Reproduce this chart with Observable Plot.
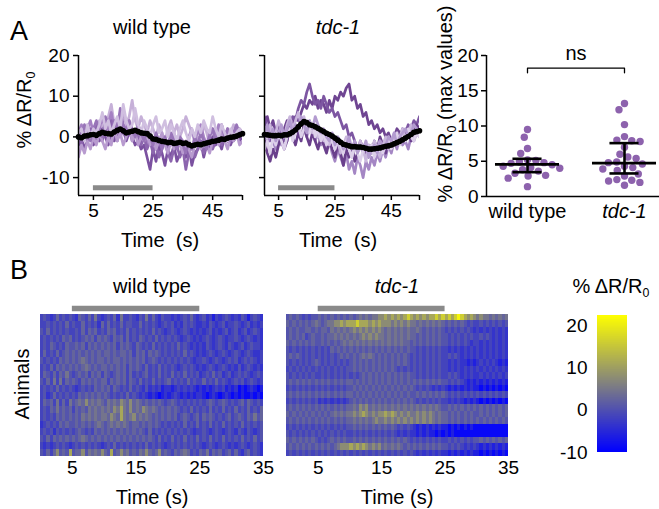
<!DOCTYPE html>
<html><head><meta charset="utf-8">
<script src="https://cdn.jsdelivr.net/npm/d3@7"></script>
<script src="https://cdn.jsdelivr.net/npm/@observablehq/plot@0.6"></script>
<style>
html,body{margin:0;padding:0;background:#fff;}
#fig{position:relative;width:659px;height:509px;overflow:hidden;font-family:"Liberation Sans",Arial,sans-serif;color:#000;background:#fff;}
#fig svg{position:absolute;left:0;top:0;}
.lbl{position:absolute;white-space:nowrap;line-height:1;}
.lbl sub{font-size:0.62em;vertical-align:-0.3em;line-height:0;}
</style></head><body><div id="fig"></div><script>
// ---------- DATA ----------
// Panel A traces (% dR/R0), one value per second from 0 s to 55 s
const wtTraces = [
  [-3,-1,1,3,2,0,2,4,1,3, 5,8,3,2,4,6,3,5,9,4, 2,5,3,1,4,2,0,3,1,-1, 2,4,1,3,0,2,5,3,1,-1, 2,0,3,1,-2,0,2,1,3,0, 2,1,3,2,0,1],
  [1,3,0,2,4,1,3,2,5,1, 3,6,2,4,1,3,2,4,1,0, 2,-1,1,-2,0,-3,-1,-4,-2,0, -3,-1,1,-2,0,-1,-3,0,2,-1, 1,3,0,-2,1,2,0,3,1,-1, 2,0,1,2,0,1],
  [-2,0,-3,-1,1,-2,0,-1,2,0, -2,1,-1,3,0,2,-1,1,0,-2, -1,-3,-2,-5,-8,-3,-6,-2,-4,-7, -3,-5,-2,-6,-4,-3,-5,-2,-7,-4, -3,-1,-5,-2,-3,0,-2,-1,-3,0, -1,-2,0,1,-1,0],
  [0,-2,1,-1,2,0,3,1,-1,2, 0,4,1,-1,3,1,0,2,-1,1, 0,-2,0,-3,-1,-4,-2,-5,-3,-1, -4,-6,-3,-2,-5,-3,-8,-4,-2,-5, -3,-1,-4,-2,0,-3,-1,1,-2,0, -1,1,-1,0,2,1],
  [-5,-2,-4,-1,-3,0,-2,1,-1,-3, 0,-2,2,-1,1,-2,0,3,-1,1, -2,0,-1,1,-2,0,-3,-1,1,-2, -4,-1,-3,0,-2,-4,-1,-3,-5,-2, 0,-3,-1,-2,-4,-1,0,-2,1,-1, -3,0,-1,1,-2,-1],
  [2,0,3,1,-1,2,4,2,0,5, 3,1,4,2,7,3,1,4,2,0, 3,1,-1,2,0,-2,1,-1,-3,0, -2,1,-1,-3,0,-2,-4,-1,-3,0, -2,1,-1,-3,0,2,-1,1,3,0, 2,-1,1,3,1,0],
  [1,2,-1,3,0,2,1,3,6,2, 4,1,3,5,2,8,4,2,3,7, 3,1,4,2,0,3,5,1,2,4, 0,3,1,-1,2,4,1,-1,2,0, 3,1,4,2,1,5,2,0,3,1, -1,2,0,1,2,1]
];
const wtMean = [0,-0.2,0.2,0.3,0.5,0.6,0.4,0.8,1.1,0.9, 0.8,0.7,1.2,1.6,1.9,1.5,1.0,1.2,1.4,1.6, 1.3,1.0,0.9,0.8,0.2,-0.5,-0.6,-0.9,-1.1,-1.2, -1.4,-1.3,-1.6,-1.5,-1.3,-1.6,-1.5,-1.9,-2.2,-2.0, -1.8,-1.9,-1.7,-1.5,-1.3,-1.1,-1.0,-0.8,-0.5,-0.6, -0.3,-0.1,0.0,0.2,0.5,0.8];
const tdcTraces = [
  [3,5,2,4,1,3,0,2,4,1, 3,5,4,6,8,7,9,8,10,7, 9,8,6,9,7,10,9,11,10,12, 13,9,10,7,8,5,6,3,4,2, 3,1,2,0,1,-1,0,2,1,-1, 0,1,-1,0,1,2],
  [5,2,-1,1,-3,0,2,-1,1,3, 5,4,7,9,8,11,13,10,8,9, 7,10,8,6,7,5,6,4,2,3, 0,1,-1,-3,-2,-4,-3,-5,-2,-4, -3,-1,-3,-2,0,-2,-1,1,0,2, 1,3,2,4,3,5],
  [0,-2,1,-1,-3,0,-2,1,-1,2, 0,3,1,4,2,0,3,1,-1,1, -2,0,-3,-1,-4,-6,-3,-5,-7,-4, -8,-6,-9,-5,-7,-10,-6,-8,-5,-7, -4,-6,-3,-5,-2,-4,-1,-3,0,-2, -1,-3,0,-1,1,0],
  [-1,-4,-6,-3,-5,-2,0,-3,-1,2, 0,-2,1,-1,3,0,-2,1,-1,-3, 0,-2,-4,-1,-3,-5,-2,-4,-7,-3, -5,-2,-6,-4,-1,-3,-5,-2,-4,-1, -3,0,-2,-4,-1,-3,0,-2,1,-1, 0,2,-1,1,3,2],
  [2,0,3,-1,1,4,2,0,3,5, 2,4,6,3,5,2,4,1,3,0, 2,-1,1,-2,0,-3,-1,-4,-2,0, -3,-5,-2,-4,-1,-3,-6,-2,-4,-1, -3,-5,-2,0,-3,-1,1,-2,0,2, -1,1,3,0,2,1],
  [-3,-1,-4,0,-2,1,-1,-3,0,2, -1,1,3,0,2,4,1,3,0,2, -1,1,-2,0,-1,-3,0,-2,-4,-1, -3,-5,-2,-4,-6,-3,-1,-4,-2,-5, -3,-1,-4,-2,0,-3,-1,1,-2,0, -1,2,0,-1,1,0],
  [1,3,0,2,-1,1,3,0,2,4, 1,3,2,5,3,1,4,2,5,3, 1,2,0,-1,1,-2,0,-1,-3,-2, 0,-3,-1,-4,-2,-3,-1,-5,-3,-2, -4,-1,-3,-2,0,-1,1,-2,0,1, 2,0,1,3,2,1]
];
const tdcMean = [0.6,0.5,0.4,0.3,0.3,0.4,0.3,0.5,0.5,0.8, 1.2,1.7,2.5,3.2,3.8,3.5,3.0,2.8,2.5,2.1, 1.7,1.3,0.9,0.6,0.2,-0.3,-0.8,-1.3,-1.8,-2.0, -2.2,-2.4,-2.4,-2.5,-2.5,-2.6,-2.8,-3.0,-3.0,-2.9, -2.8,-2.7,-2.5,-2.3,-2.2,-2.0,-1.7,-1.4,-1.1,-0.7, -0.3,0.1,0.6,1.1,1.3,1.5];
const stimulus = [5, 25];               // seconds
const traceTicks = [5, 15, 25, 35, 45, 55];
const traceTickLabels = [5, 25, 45];
const traceYTicks = [-10, 0, 10, 20];

// Panel A scatter: max % dR/R0 per animal
const groups = ["wild type", "tdc-1"];
const wtMax = [9.5,8.4,6.8,6.1,5.2,5.1,4.9,4.8,4.7,4.5,4.3,4.1,4.0,3.8,3.6,3.3,3.0,2.9,2.6,1.4];
const tdcMax = [13.2,12.3,10.2,8.5,8.0,7.9,7.8,7.0,6.0,5.6,5.4,4.9,4.8,4.6,4.3,4.1,3.9,3.7,3.2,2.9,2.4,2.3,2.2,2.0,1.6];
const medians = [4.55, 4.73];
const ciLow = [3.45, 3.27];
const ciHigh = [5.35, 7.57];
const sigLabel = "ns";
const sigLevel = 18.2;
const maxTicks = [0, 5, 10, 15, 20];

// Panel B heatmaps: one row per animal, 0.5 s bins from 0 to 35 s; each character is a level index
const heatLevels = [-9, -6, -3.5, -1.5, 0.5, 2.5, 4.5, 7.5, 11, 16, 21];
const heatBin = 0.5;
const wtHeat = [
  "3432353434 3254353632 3435263343 2436353243 3232343532 3423132343 2324313432",
  "3343434353 4335343425 3534353443 3534343234 3423243432 2324323423 3432342323",
  "4353434343 3435354534 3545343534 3434353432 3432343232 3234232342 3423423432",
  "3434343545 3434545354 5435453534 3543435343 4343234323 2343234323 3432343232",
  "3435434354 4545354545 4545354543 5434353434 3435343232 3243234324 3234234332",
  "3534353454 5454545454 5545455453 5453545434 3434353432 3234323432 3432343223",
  "4343435454 5456545455 4545545454 5453454343 4343434323 3432343234 3423434323",
  "3435354545 4545654545 5454545354 5435343534 3432343432 3234323432 3242343232",
  "3543535464 3454535453 5434545353 4345343534 3534353434 2343534234 2343432343",
  "4353636354 5435454545 5354545354 3534353434 5343435343 3534353432 3434234323",
  "3434353434 3234343545 4535434353 4324232312 2123232321 2121232312 1201012101",
  "3423534343 4354545454 5434343534 3232121012 1232121212 2101210121 0101001010",
  "3545363536 4565756565 4656576575 6545454543 4543434343 4345434543 4345354343",
  "3435464545 3545465656 5657686575 6576565454 5454343534 3435343534 3534353435",
  "3434354545 4546565656 6576586567 5656545454 5453454345 3545434345 3454354645",
  "2343435454 4545454565 4565656545 5454545434 3434353435 3435343534 3435343434",
  "3434243434 3454343545 4545454545 4543534343 4343434323 3432343234 3243243234",
  "4353545454 5456545454 5454545454 5454543534 3534353435 3435343534 3435343534",
  "3232343432 3434343432 3435343434 3435343432 3434343434 3234323432 3234323432",
  "4353574548 4557465657 5484575645 4657545745 4354565343 5463545345 3532453432"
];
const tdcHeat = [
  "4545434344 5454545454 5456565667 7878787898 7878788989 8989a98787 6766565656",
  "5454545456 5456677878 8898887878 7776767676 6565656565 4545454343 3434343434",
  "4545445545 4554656565 6767676767 6565656565 5654545454 3434343432 3232323232",
  "4545453454 4545565656 5656767676 6565656565 5454545454 4343434343 3434323232",
  "5454545454 4545454565 6565656565 6565656554 5454545454 4343434323 3232323232",
  "4343434343 4343545454 5454545454 5454545454 4343434343 3232323232 3232323232",
  "4545434343 4343434545 4545656545 4545454543 4343434343 3434323232 3232323232",
  "4343434345 4343434343 4545454545 4545454543 4343434343 3232322121 2323232121",
  "3434343434 3434343434 4545454545 4545434343 4343434343 3232323232 3232323232",
  "4343434343 3434343434 3434545454 5454545454 4343434343 3434323232 2323232323",
  "4545454545 4545454545 5454545454 5454545454 5454545454 4343432121 2121212121",
  "3434343434 3434343434 4545454545 4545454545 4343432323 2121212121 1010101010",
  "4545454545 4545454545 5454545454 5454545454 4545454545 4343434343 4343434343",
  "3434343434 2323232323 4545454545 4545454545 4343434343 3232321212 1010101010",
  "4545454545 4545454545 5657675656 5656565656 5656565654 4545454545 4545454545",
  "5454545454 5454565656 6767876767 7878767676 6767676565 5454545454 4545454545",
  "4545454545 4545454545 5656565676 6767676767 6767676565 5454545454 5454545454",
  "3434343434 3434343434 4545454545 4545434343 2121212121 1010101010 0000000000",
  "4343434343 4343434343 3434343434 3434323232 2121211010 1010000000 0000000000",
  "5454545454 3434545454 4545454545 4545454543 4343434343 3434343434 4545454545",
  "4545454545 4545456777 8787876767 5656565454 5454545454 4343432323 2121212121",
  "3434343434 3434343434 3434343434 3434343434 3232323232 2121212121 1010101010"
];
const heatTicks = [5, 15, 25, 35];
const colorTicks = [-10, 0, 10, 20];

// ---------- STYLE ----------
const W = 659, H = 509;
const FONT = '"Liberation Sans", Arial, sans-serif';
const baseStyle = {background: "transparent", overflow: "visible", fontFamily: FONT, fontSize: "19px", color: "#000"};
const wtPalette = ["#c6b0d8", "#a580c3", "#7b51a0", "#8c65ae", "#b89bcf", "#9874b8", "#d0bfe0"];
const tdcPalette = ["#6f4592", "#7d56a2", "#a486c4", "#6a408c", "#c9b6dc", "#ddd0ea", "#b39bd0"];
const dotColor = "#8d62ad";
const stimColor = "#8a8a8a";
const colorScale = {type: "linear", domain: [-10, 6, 22.3], range: ["#0000ff", "#808080", "#ffff00"], clamp: true};

const fig = document.getElementById("fig");
function label(html, x, y, {size = 20, rotate = false, italic = false} = {}) {
  const d = document.createElement("div");
  d.className = "lbl"; d.innerHTML = html;
  d.style.left = x + "px"; d.style.top = y + "px"; d.style.fontSize = size + "px";
  if (italic) d.style.fontStyle = "italic";
  d.style.transform = "translate(-50%,-50%)" + (rotate ? " rotate(-90deg)" : "");
  fig.appendChild(d);
}

// ---------- PANEL A: traces ----------
function tracePlot(left, right, traces, palette, mean, showY) {
  const yMin = -14.4, yMax = 20;
  return Plot.plot({
    width: W, height: H,
    marginLeft: left, marginRight: W - right, marginTop: 55, marginBottom: H - 195,
    style: baseStyle,
    x: {domain: [0, 55]}, y: {domain: [yMin, yMax]},
    marks: [
      ...traces.map((tr, k) => Plot.line(tr, {x: (d, i) => i, y: d => d, stroke: palette[k], strokeWidth: 2.7, clip: true, strokeLinejoin: "round"})),
      Plot.line(mean, {x: (d, i) => i, y: d => d, stroke: "#000", strokeWidth: 4.5}),
      Plot.dot(mean, {x: (d, i) => i, y: d => d, r: 2.8, fill: "#000"}),
      Plot.ruleY([-12.5], {x1: stimulus[0], x2: stimulus[1], stroke: stimColor, strokeWidth: 5}),
      Plot.ruleX([0], {y1: yMin, y2: yMax, strokeWidth: 1.5}),
      Plot.ruleY([yMin], {x1: 0, x2: 55, strokeWidth: 1.5}),
      Plot.axisY({ticks: traceYTicks, tickSize: 5, tickPadding: 4, strokeWidth: 1.5, tickFormat: showY ? d => String(d) : () => "", label: null}),
      Plot.axisX({ticks: traceTicks, tickSize: 5, tickPadding: 3, strokeWidth: 1.5, tickFormat: d => traceTickLabels.includes(d) ? String(d) : "", label: null})
    ]
  });
}
fig.appendChild(tracePlot(78, 242, wtTraces, wtPalette, wtMean, true));
fig.appendChild(tracePlot(264, 419, tdcTraces, tdcPalette, tdcMean, false));

// ---------- PANEL A: scatter ----------
{
  const left = 486, right = 659, c0 = 527, step = 97;
  const xMin = (left - c0) / step, xMax = (right - c0) / step;
  const mid = (left + right) / 2;
  const idx = groups.map((g, i) => i);
  fig.appendChild(Plot.plot({
    width: W, height: H,
    marginLeft: left, marginRight: W - right, marginTop: 55, marginBottom: H - 196,
    style: baseStyle,
    x: {domain: [xMin, xMax], axis: null}, y: {domain: [0, 20]},
    marks: [
      Plot.dot(wtMax, Plot.dodgeX("middle", {y: d => d, r: 3.7, padding: 0.2, fill: dotColor, dx: c0 - mid})),
      Plot.dot(tdcMax, Plot.dodgeX("middle", {y: d => d, r: 3.7, padding: 0.2, fill: dotColor, dx: c0 + step - mid})),
      Plot.ruleY(idx, {y: i => medians[i], x1: i => i - 0.33, x2: i => i + 0.33, strokeWidth: 2.6}),
      Plot.ruleX(idx, {x: i => i, y1: i => ciLow[i], y2: i => ciHigh[i], strokeWidth: 2.6}),
      Plot.ruleY(idx, {y: i => ciLow[i], x1: i => i - 0.15, x2: i => i + 0.15, strokeWidth: 2.6}),
      Plot.ruleY(idx, {y: i => ciHigh[i], x1: i => i - 0.15, x2: i => i + 0.15, strokeWidth: 2.6}),
      Plot.line([[0, sigLevel - 0.65], [0, sigLevel], [1, sigLevel], [1, sigLevel - 0.65]], {strokeWidth: 1.3}),
      Plot.text([sigLabel], {x: 0.5, y: sigLevel + 2.1, text: d => d, fontSize: 20}),
      Plot.ruleX([xMin], {y1: 0, y2: 20, strokeWidth: 1.5}),
      Plot.ruleY([0], {x1: xMin, x2: xMax, strokeWidth: 1.5}),
      Plot.text([groups[0]], {x: 0, frameAnchor: "bottom", dy: 21, text: d => d, fontSize: 20}),
      Plot.text([groups[1]], {x: 1, frameAnchor: "bottom", dy: 21, text: d => d, fontSize: 20, fontStyle: "italic"}),
      Plot.axisY({ticks: maxTicks, tickSize: 5, tickPadding: 3, strokeWidth: 1.5, tickFormat: d => String(d), label: null})
    ]
  }));
}

// ---------- PANEL B: heatmaps ----------
function heatPlot(rows, left, right) {
  const cells = rows.flatMap((s, r) => [...s.replace(/ /g, "")].map((c, j) => ({r, j, v: heatLevels["0123456789a".indexOf(c)]})));
  return Plot.plot({
    width: W, height: H,
    marginLeft: left, marginRight: W - right, marginTop: 314, marginBottom: H - 456,
    style: baseStyle,
    x: {domain: [0, 35]}, y: {domain: [0, rows.length], reverse: true, axis: null},
    color: colorScale,
    marks: [
      Plot.rect(cells, {x1: d => d.j * heatBin, x2: d => (d.j + 1) * heatBin, y1: d => d.r, y2: d => d.r + 1, fill: d => d.v, shapeRendering: "crispEdges", clip: true}),
      Plot.ruleY([0], {x1: stimulus[0], x2: stimulus[1], dy: -6, stroke: stimColor, strokeWidth: 5.5}),
      Plot.axisX({ticks: heatTicks, tickSize: 0, tickPadding: 4, tickFormat: d => String(d), label: null})
    ]
  });
}
fig.appendChild(heatPlot(wtHeat, 40, 263));
fig.appendChild(heatPlot(tdcHeat, 286, 508));

// ---------- colour bar ----------
fig.appendChild(Plot.plot({
  width: W, height: H,
  marginLeft: 597, marginRight: W - 627, marginTop: 325, marginBottom: H - 452,
  style: baseStyle,
  x: {domain: [0, 1], axis: null}, y: {domain: [-10, 20]},
  color: colorScale,
  marks: [
    Plot.rect(d3.range(-10, 22.3, 0.1), {x1: 0, x2: 1, y1: d => d, y2: d => d + 0.13, fill: d => d, shapeRendering: "crispEdges"}),
    Plot.axisY({ticks: colorTicks, tickSize: 0, tickPadding: 10, tickFormat: d => String(d), label: null})
  ]
}));

// ---------- text ----------
label("A", 19, 31, {size: 27});
label("B", 19, 270, {size: 27});
label("wild type", 152, 27);
label("tdc-1", 338, 27, {italic: true});
label("% ΔR/R<sub>0</sub>", 24, 110, {rotate: true});
label("Time&nbsp; (s)", 160, 240);
label("Time&nbsp; (s)", 338, 240);
label("% ΔR/R<sub>0</sub> (max values)", 445, 104, {rotate: true, size: 20});
label("wild type", 152, 286);
label("tdc-1", 397, 286, {italic: true});
label("Animals", 22, 384, {rotate: true});
label("Time (s)", 152, 497);
label("Time (s)", 397, 497);
label("% ΔR/R<sub>0</sub>", 611, 286);
</script></body></html>
